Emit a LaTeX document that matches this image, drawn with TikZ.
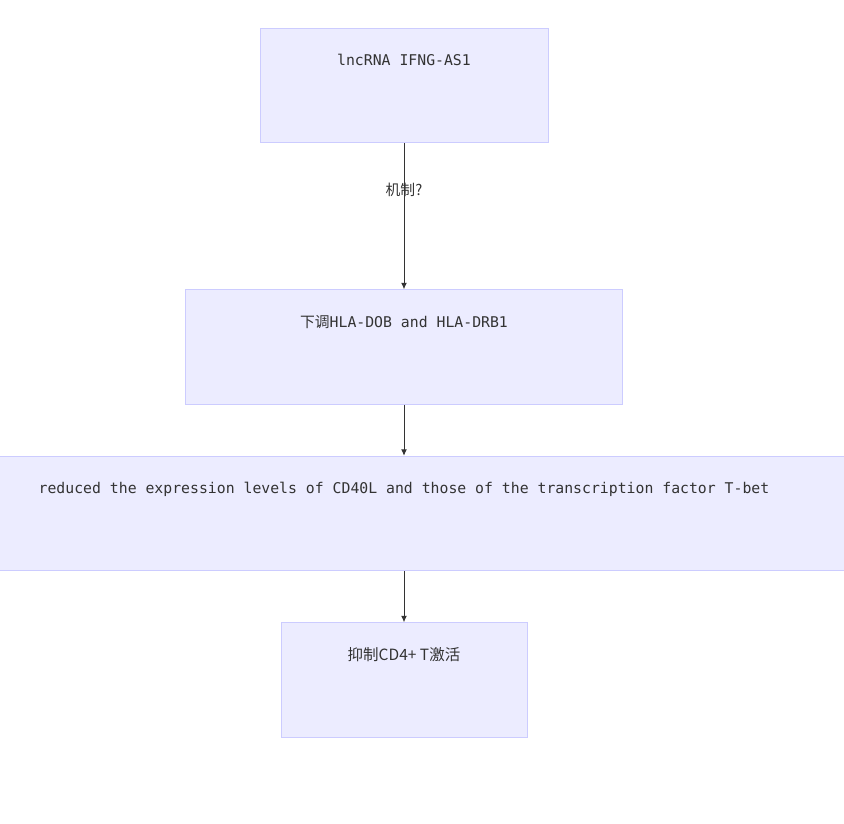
\documentclass[tikz,border=0pt]{standalone}
\usepackage{fontspec}
\setmainfont{DejaVu Sans Mono}
\newfontfamily\cjk{Noto Sans CJK SC}
\usetikzlibrary{arrows.meta, positioning}
\definecolor{boxfill}{HTML}{ECECFF}
\definecolor{boxline}{HTML}{CCCCFF}
\definecolor{ink}{HTML}{333333}

\begin{document}
\begin{tikzpicture}[
x=1pt, y=-1pt,
node distance = 51pt,
 kasse/.style = {rectangle, draw=boxline, fill=boxfill, line width=1pt,
                 inner sep=0pt, text=ink, font=\fontsize{14.8pt}{17pt}\selectfont,
                 text height=37.5pt, text depth=77pt},
   pil/.style = {ink, line width=1pt, -{Latex[length=6.5pt,width=6pt]}}
                    ]
\useasboundingbox (0,0) rectangle (844,823);
%nodes
\node[kasse,minimum width=288pt] (lnc) at (404,85.5) {lncRNA IFNG-AS1} ;
\node[kasse,minimum width=437pt] (hla) [below=146pt of lnc] {{\cjk 下调}HLA-DOB and HLA-DRB1} ;
\node[kasse,minimum width=880pt] (cd40) [below=of hla] {reduced the expression levels of CD40L and those of the transcription factor T-bet} ;
\node[kasse,minimum width=246pt] (tcell) [below=of cd40] {\cjk\fontsize{15.5pt}{17pt}\selectfont 抑制CD4+ T激活} ;

% edges
\draw[pil]  (lnc) edge node[pos=0.32,text=ink,font=\cjk\fontsize{14.8pt}{17pt}\selectfont] {机制?} (hla)
(hla) edge (cd40)
(cd40) edge (tcell);
    \end{tikzpicture}
\end{document}
